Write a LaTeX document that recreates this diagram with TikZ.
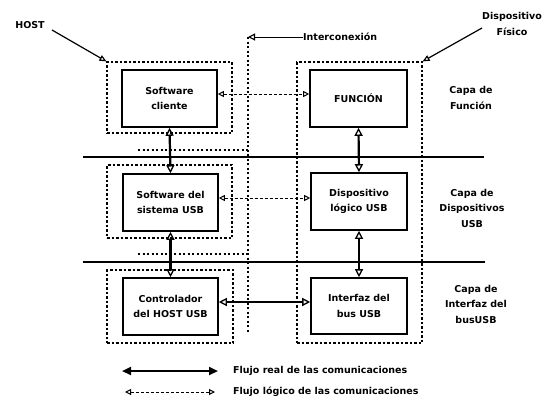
\documentclass[tikz,border=0pt]{standalone}
\usepackage{fontspec}
\setmainfont{DejaVu Sans}
\usetikzlibrary{arrows.meta}
\begin{document}
\begin{tikzpicture}[x=1pt,y=-1pt,
  every node/.style={font=\bfseries\fontsize{9.5}{15.5}\selectfont, align=center, inner sep=0pt},
  blk/.style={draw, line width=1.6pt, minimum width=95pt, minimum height=57pt},
  grp/.style={draw, line width=1.2pt, dash pattern=on 2.5pt off 2pt},
  dots/.style={line width=1.2pt, dash pattern=on 2pt off 2.5pt},
  sep/.style={line width=1.1pt},
  real/.style={line width=2.2pt, {Triangle[open,length=8pt,width=8pt,line width=1.3pt]}-{Triangle[open,length=8pt,width=8pt,line width=1.3pt]}},
  realleg/.style={line width=2.2pt, {Triangle[length=9pt,width=8pt]}-{Triangle[length=9pt,width=8pt]}},
  logic/.style={line width=0.8pt, dash pattern=on 3pt off 2pt, {Triangle[open,length=6pt,width=6pt,line width=1pt]}-{Triangle[open,length=6pt,width=6pt,line width=1pt]}},
  pointer/.style={line width=1.2pt, -{Triangle[open,length=7pt,width=6pt,line width=1.2pt]}}
]
\useasboundingbox (0,0) rectangle (547,405);

% group boxes
\node[grp, minimum width=125pt, minimum height=71pt] (hg1) at (169.5,97.5) {};
\node[grp, minimum width=125pt, minimum height=73pt] (hg2) at (169.5,201.5) {};
\node[grp, minimum width=126pt, minimum height=73pt] (hg3) at (170,306.5) {};
\node[grp, minimum width=125pt, minimum height=281pt] (dg) at (359.5,202.5) {};

% separators
\coordinate (s1a) at (83,157); \coordinate (s1b) at (484,157);
\coordinate (s2a) at (83,262); \coordinate (s2b) at (485,262);
\draw[sep] (s1a) -- (s1b);
\draw[sep] (s2a) -- (s2b);

% interconnection outline
\coordinate (ictop) at (248,37);
\coordinate (icbot) at (248,333);
\coordinate (ich1a) at (138,150); \coordinate (ich1b) at (248,150);
\coordinate (ich2a) at (138,254); \coordinate (ich2b) at (248,254);
\draw[dots] (ictop) -- (icbot);
\draw[dots] (ich1a) -- (ich1b);
\draw[dots] (ich2a) -- (ich2b);
\node[anchor=west] (ic) at (303,37) {Interconexión};
\draw[line width=0.9pt, -{Triangle[open,length=7pt,width=7pt,line width=1.1pt]}] (ic.west) -- (ictop);

% blocks
\node[blk] (sc) at (169.5,98.5) {Software\\cliente};
\node[blk] (ss) at (170.5,202.5) {Software del\\sistema USB};
\node[blk] (ct) at (170.5,306.5) {Controlador\\del HOST USB};
\node[blk, minimum width=97pt] (fn) at (358.5,98.5) {FUNCIÓN};
\node[blk, minimum width=96pt] (dl) at (359,201.5) {Dispositivo\\lógico USB};
\node[blk, minimum width=96pt, minimum height=56pt] (ib) at (359,306) {Interfaz del\\bus USB};

% flows
\draw[real] (sc.south) -- (ss.north);
\draw[real] (ss.south) -- (ct.north);
\draw[real] (fn.south) -- (dl.north);
\draw[real] (dl.south) -- (ib.north);
\draw[logic] (sc.east |- 0,94) -- (fn.west |- 0,94);
\draw[logic] (ss.east |- 0,198) -- (dl.west |- 0,198);
\draw[real] (ct.east |- 0,302) -- (ib.west |- 0,302);

% layer labels
\node (l1) at (471,98) {Capa de\\Función};
\node (l2) at (472,208) {Capa de\\Dispositivos\\USB};
\node (l3) at (476,304) {Capa de\\Interfaz del\\busUSB};

% host / device labels
\node (host) at (30,25) {HOST};
\coordinate (hoststart) at (52,30);
\draw[pointer] (hoststart) -- (hg1.north west);
\node (df) at (512,24) {Dispositivo\\Físico};
\coordinate (dfstart) at (482,28);
\draw[pointer] (dfstart) -- (dg.north east);

% legend
\coordinate (la1) at (122,371); \coordinate (lb1) at (218,371);
\coordinate (la2) at (125,392); \coordinate (lb2) at (215,392);
\draw[realleg] (la1) -- (lb1);
\draw[logic] (la2) -- (lb2);
\node[anchor=west] (t1) at (233,371) {Flujo real de las comunicaciones};
\node[anchor=west] (t2) at (233,392) {Flujo lógico de las comunicaciones};
\end{tikzpicture}
\end{document}
